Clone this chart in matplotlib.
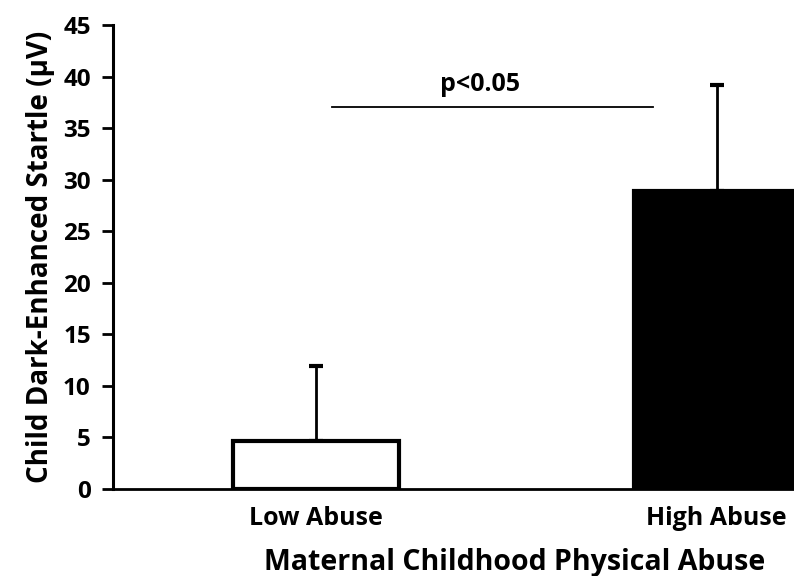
import matplotlib.pyplot as plt

# data
groups = ["Low Abuse", "High Abuse"]
means = [4.7, 28.9]
err_up = [7.2, 10.3]
bar_fill = ["white", "black"]
sig_span = [0.04, 0.84]
sig_y = 37.0
sig_text = "p<0.05"

plt.rcParams['font.family'] = ['Open Sans', 'DejaVu Sans']
plt.rcParams['font.weight'] = 'bold'

fig = plt.figure(figsize=(7.94, 5.76), dpi=100)
ax = fig.add_axes([113/794, 87/576, 704/794, 464/576])

x = range(len(groups))
ax.bar(x, means, width=0.414, color=bar_fill, edgecolor="black", linewidth=3, zorder=2)
ax.errorbar(x, means, yerr=[[0, 0], err_up], fmt="none", ecolor="black",
            elinewidth=2, capsize=5, capthick=3, zorder=1)

# significance line
ax.plot(sig_span, [sig_y, sig_y], color="black", linewidth=1.3)
ax.text(0.41, sig_y + 1.0, sig_text, ha="center", va="bottom",
        fontsize=18, fontweight="bold")

ax.set_xlim(-0.506, 1.25)
ax.set_ylim(0, 45)
ax.set_yticks(range(0, 46, 5))
ax.set_xticks(list(x))
ax.set_xticklabels(groups, fontsize=18, fontweight="bold")
ax.tick_params(axis="x", length=0, pad=12)
ax.tick_params(axis="y", length=8, width=2, labelsize=17.5, pad=8)
for lbl in ax.get_yticklabels():
    lbl.set_fontweight("bold")

for s in ["top", "right"]:
    ax.spines[s].set_visible(False)
ax.spines["left"].set_linewidth(2.2)
ax.spines["bottom"].set_linewidth(2)

ax.set_ylabel("Child Dark-Enhanced Startle (µV)", fontsize=20, fontweight="bold", labelpad=6)
fig.text(515/794, 1 - 570/576, "Maternal Childhood Physical Abuse", ha="center",
         va="baseline", fontsize=20.5, fontweight="bold")

fig.savefig("out.png", dpi=100)
